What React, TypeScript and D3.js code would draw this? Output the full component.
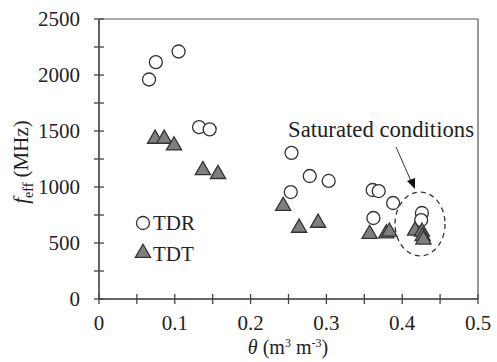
import React from "react";
import * as d3 from "d3";

const tdrTheta = [0.066, 0.075, 0.105, 0.132, 0.146, 0.254, 0.253, 0.278, 0.303, 0.361, 0.369, 0.388, 0.362, 0.426, 0.425];
const tdrFreq = [1960, 2115, 2210, 1535, 1515, 1305, 955, 1098, 1054, 973, 964, 857, 723, 768, 705];
const tdtTheta = [0.074, 0.086, 0.099, 0.137, 0.157, 0.243, 0.264, 0.289, 0.357, 0.379, 0.383, 0.417, 0.426, 0.427, 0.428];
const tdtFreq = [1430, 1430, 1370, 1150, 1115, 830, 635, 680, 580, 585, 600, 610, 600, 560, 530];

const xMajor = [0, 0.1, 0.2, 0.3, 0.4, 0.5];
const xMinor = [0.05, 0.15, 0.25, 0.35, 0.45];
const yMajor = [0, 500, 1000, 1500, 2000, 2500];
const yMinor = [250, 750, 1250, 1750, 2250];

const W = 497;
const H = 362;
const font = "'Times New Roman', 'Liberation Serif', Tinos, 'DejaVu Serif', 'Noto Serif', serif";

export default function App() {
  const x = d3.scaleLinear().domain([0, 0.5]).range([99, 478]);
  const y = d3.scaleLinear().domain([0, 2500]).range([299, 19]);
  const tri = d3.symbol(d3.symbolTriangle, 100)()!;

  // dashed ellipse round the saturated points
  const ex = x(0.4235);
  const ey = y(670);
  const erx = x(0.4235 + 0.033) - ex;
  const ery = y(670) - y(955);

  const txt = { fontFamily: font, fill: "#222" };

  return (
    <svg width={W} height={H} style={{ position: "absolute", left: 0, top: 0 }}>
      <rect width={W} height={H} fill="#fff" />
      {/* frame */}
      <line x1={x(0)} x2={x(0.5)} y1={y(2500)} y2={y(2500)} stroke="#555" strokeWidth={1.2} />
      <line x1={x(0.5)} x2={x(0.5)} y1={y(2500)} y2={y(0)} stroke="#555" strokeWidth={1.2} />
      {/* axes */}
      <line x1={x(0)} x2={x(0.5)} y1={y(0)} y2={y(0)} stroke="#666" strokeWidth={2} />
      <line x1={x(0)} x2={x(0)} y1={y(2500)} y2={y(0)} stroke="#666" strokeWidth={2} />
      {[...xMajor, ...xMinor].map((t) => (
        <line key={"xt" + t} x1={x(t)} x2={x(t)} y1={y(0) - 5} y2={y(0) + 5} stroke="#444" strokeWidth={1.3} />
      ))}
      {[...yMajor, ...yMinor].map((t) => (
        <line key={"yt" + t} x1={x(0) - 5} x2={x(0) + 5} y1={y(t)} y2={y(t)} stroke="#444" strokeWidth={1.3} />
      ))}
      {xMajor.map((t) => (
        <text key={"xl" + t} x={x(t)} y={330} fontSize={21} textAnchor="middle" style={txt}>
          {t === 0 ? "0" : String(t)}
        </text>
      ))}
      {yMajor.map((t) => (
        <text key={"yl" + t} x={80} y={y(t) + 7} fontSize={21} textAnchor="end" style={txt}>
          {t}
        </text>
      ))}
      {/* axis titles */}
      <text x={288} y={354} fontSize={20} textAnchor="middle" style={txt}>
        <tspan fontStyle="italic">θ</tspan>
        <tspan> (m</tspan>
        <tspan fontSize={12} dy={-7}>3</tspan>
        <tspan dy={7}> m</tspan>
        <tspan fontSize={12} dy={-7}>-3</tspan>
        <tspan dy={7}>)</tspan>
      </text>
      <text transform={`translate(28,162) rotate(-90)`} fontSize={21} textAnchor="middle" style={txt}>
        <tspan fontStyle="italic">f</tspan>
        <tspan fontSize={14} dy={5}>eff</tspan>
        <tspan dy={-5}> (MHz)</tspan>
      </text>
      {/* data */}
      {tdrTheta.map((t, i) => (
        <circle key={"c" + i} cx={x(t)} cy={y(tdrFreq[i])} r={6.5} fill="#fff" stroke="#333" strokeWidth={1.3} />
      ))}
      {tdtTheta.map((t, i) => (
        <path key={"t" + i} d={tri} transform={`translate(${x(t)},${y(tdtFreq[i])})`} fill="#7f7f7f" stroke="#333" strokeWidth={1.3} />
      ))}
      {/* annotation */}
      <ellipse cx={ex} cy={ey} rx={erx} ry={ery} fill="none" stroke="#333" strokeWidth={1.3} strokeDasharray="5,4" />
      <line x1={396} y1={147} x2={411} y2={181} stroke="#333" strokeWidth={1} />
      <path d="M415,189 L407,181 L415,178 Z" fill="#111" />
      <text x={288} y={137} fontSize={22.5} textLength={186} lengthAdjust="spacingAndGlyphs" style={txt}>Saturated conditions</text>
      {/* legend */}
      <circle cx={143} cy={223} r={6.5} fill="#fff" stroke="#333" strokeWidth={1.3} />
      <text x={153} y={230} fontSize={21} style={txt}>TDR</text>
      <path d={tri} transform="translate(143,253)" fill="#7f7f7f" stroke="#333" strokeWidth={1.3} />
      <text x={153} y={261} fontSize={21} style={txt}>TDT</text>
    </svg>
  );
}
